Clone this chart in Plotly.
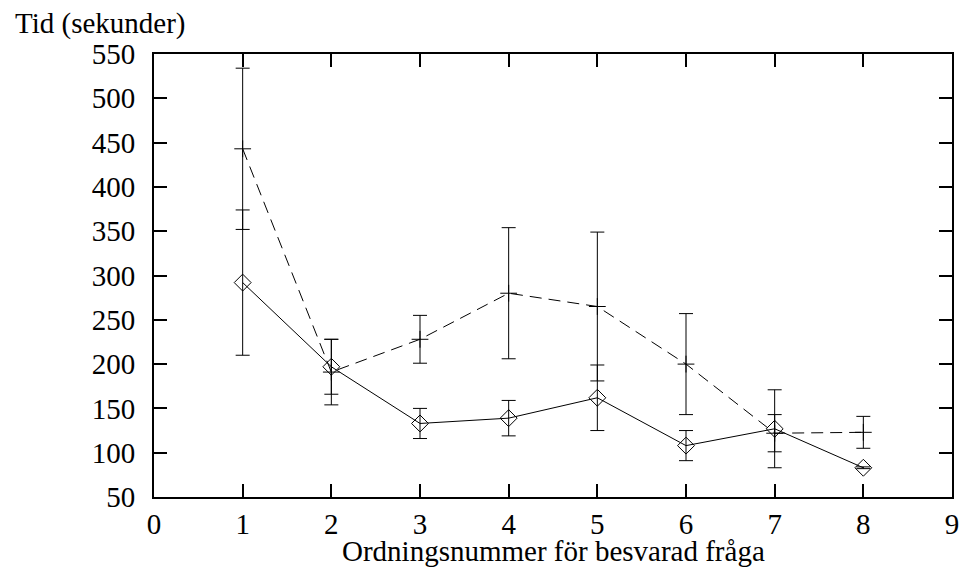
import plotly.graph_objects as go

x = [1, 2, 3, 4, 5, 6, 7, 8]
solid_y = [292, 197, 133, 139, 162, 108, 127, 83]
solid_err = [82, 31, 17, 20, 37, 17, 44, 1]
dashed_y = [443, 191, 228, 280, 265, 200, 122, 123]
dashed_err = [91, 37, 27, 74, 84, 57, 21, 18]

x_title = "Ordningsnummer för besvarad fråga"
y_title = "Tid (sekunder)"

FONT = "Liberation Serif"
FS = 29

L, R, T, B = 154, 8, 54, 70
PW = 960 - L - R

fig = go.Figure()
fig.add_trace(go.Scatter(
    x=x, y=dashed_y, mode="lines+markers",
    line=dict(color="black", width=1, dash="12px,7px"),
    marker=dict(symbol="cross-thin", size=12, line=dict(color="black", width=1)),
    error_y=dict(type="data", array=dashed_err, visible=True, color="black", thickness=1, width=7),
    showlegend=False,
))
fig.add_trace(go.Scatter(
    x=x, y=solid_y, mode="lines+markers",
    line=dict(color="black", width=1),
    marker=dict(symbol="diamond-open", size=13, color="black", line=dict(color="black", width=1)),
    error_y=dict(type="data", array=solid_err, visible=True, color="black", thickness=1, width=7),
    showlegend=False,
))

axis_common = dict(
    showgrid=False, zeroline=False, showline=True, linecolor="black", linewidth=2,
    mirror="ticks", ticks="inside", ticklen=13, tickwidth=2, tickcolor="black",
    tickfont=dict(family=FONT, size=FS, color="black"), automargin=False,
)
fig.update_xaxes(range=[0, 9], dtick=1, tick0=0, ticklabelstandoff=0, **axis_common)
fig.update_yaxes(range=[50, 550], dtick=50, tick0=50, ticklabelstandoff=11, **axis_common)

fig.update_layout(
    width=960, height=567,
    margin=dict(l=L, r=R, t=T, b=B, autoexpand=False),
    plot_bgcolor="white", paper_bgcolor="white",
    font=dict(family=FONT, size=FS, color="black"),
    annotations=[
        dict(text=y_title, xref="paper", yref="paper", x=(13 - L) / PW, y=1, xanchor="left",
             yanchor="middle", yshift=31, showarrow=False, font=dict(family=FONT, size=FS, color="black")),
        dict(text=x_title, xref="paper", yref="paper", x=(553 - L) / PW, y=0, xanchor="center",
             yanchor="middle", yshift=-54, showarrow=False, font=dict(family=FONT, size=FS, color="black")),
    ],
)

fig.write_html("out.html")
